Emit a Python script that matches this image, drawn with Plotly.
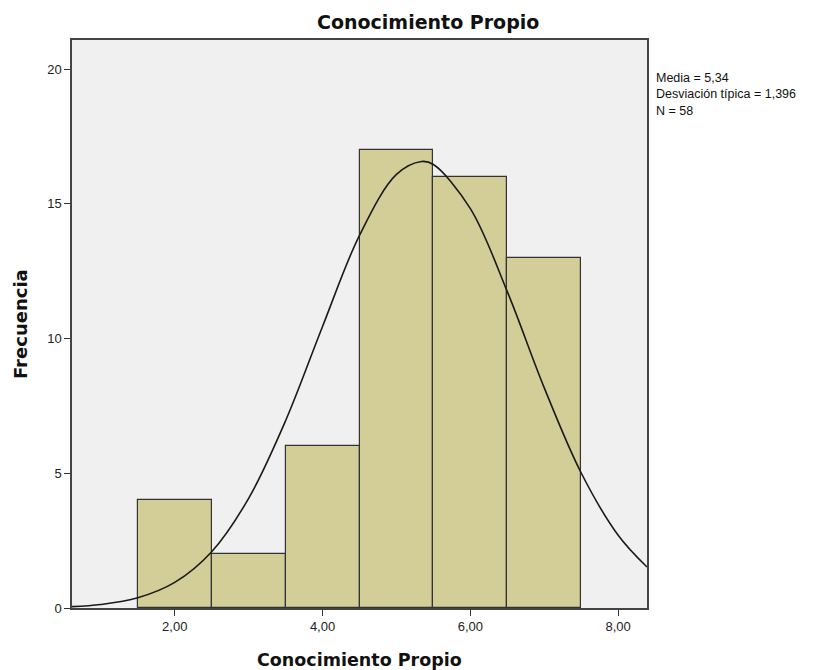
import plotly.graph_objects as go

# Histogram bins (centres) and frequencies
bin_centers = [2, 3, 4, 5, 6, 7]
frequencies = [4, 2, 6, 17, 16, 13]

# Normal curve
curve_x = [0.61, 1.0, 1.5, 2.0, 2.5, 3.0, 3.5, 4.0, 4.5, 5.0, 5.34, 5.5, 6.0, 6.5, 7.0, 7.5, 8.0, 8.39]
curve_y = [0.05, 0.13, 0.38, 0.95, 2.09, 4.07, 6.95, 10.45, 13.83, 16.09, 16.57, 16.46, 14.82, 11.74, 8.17, 5.01, 2.70, 1.52]

x_tick_vals = [2, 4, 6, 8]
x_tick_text = ["2,00", "4,00", "6,00", "8,00"]
y_tick_vals = [0, 5, 10, 15, 20]

stats_text = "Media = 5,34<br>Desviación típica = 1,396<br>N = 58"
title_text = "Conocimiento Propio"
x_title = "Conocimiento Propio"
y_title = "Frecuencia"

font_family = "Liberation Sans, Arial, sans-serif"
title_family = "DejaVu Sans, Liberation Sans, sans-serif"

fig = go.Figure()
fig.add_trace(go.Bar(
    x=bin_centers, y=frequencies, width=1.0,
    marker=dict(color="#d3ce97", line=dict(color="#333333", width=1.2)),
    hoverinfo="x+y", showlegend=False,
))
fig.add_trace(go.Scatter(
    x=curve_x, y=curve_y, mode="lines",
    line=dict(color="#1a1a1a", width=1.6, shape="spline"),
    showlegend=False,
))

fig.update_layout(
    width=827, height=670,
    margin=dict(l=64, r=188, t=32, b=70, autoexpand=False),
    paper_bgcolor="white", plot_bgcolor="#f0f0f0",
    font=dict(family=font_family, size=13, color="#222222"),
    bargap=0,
    annotations=[
        dict(text="<b>" + title_text + "</b>", xref="paper", yref="paper",
             x=0.619, y=1.0, xanchor="center", yanchor="middle", yshift=18,
             showarrow=False, font=dict(family=title_family, size=19, color="#111111")),
        dict(text="<b>" + x_title + "</b>", xref="paper", yref="paper",
             x=0.5, y=-0.0915, xanchor="center", yanchor="middle",
             showarrow=False, font=dict(family=title_family, size=17.5, color="#111111")),
        dict(text="<b>" + y_title + "</b>", xref="paper", yref="paper",
             x=-0.0904, y=0.5, xanchor="center", yanchor="middle", textangle=-90,
             showarrow=False, font=dict(family=title_family, size=18, color="#111111")),
        dict(text=stats_text, xref="paper", yref="paper",
             x=1.0, y=0.9494, xanchor="left", yanchor="top", xshift=7,
             align="left", showarrow=False, font=dict(size=12.5, color="#111111")),
    ],
)
fig.update_xaxes(
    range=[0.61, 8.39], tickvals=x_tick_vals, ticktext=x_tick_text,
    ticks="outside", ticklen=6, tickcolor="#333333", tickwidth=1.2,
    showgrid=False, zeroline=False, automargin=False,
    showline=True, linecolor="#444444", linewidth=1.5, mirror=True,
    tickfont=dict(size=13, color="#222222"),
)
fig.update_yaxes(
    range=[0, 21.08], tickvals=y_tick_vals,
    ticks="outside", ticklen=6, tickcolor="#333333", tickwidth=1.2,
    showgrid=False, zeroline=False, automargin=False,
    showline=True, linecolor="#444444", linewidth=1.5, mirror=True,
    tickfont=dict(size=13, color="#222222"),
)

fig.write_html("out.html")
